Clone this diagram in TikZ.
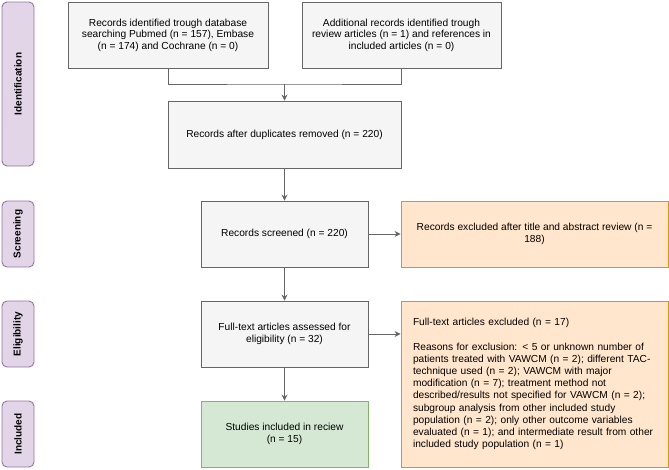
\documentclass[tikz,border=0pt]{standalone}
\usepackage{fontspec}
\setmainfont{Liberation Sans}
\usetikzlibrary{arrows.meta}
\definecolor{stagefill}{HTML}{E1D5E7}
\definecolor{stageline}{HTML}{9673A6}
\definecolor{boxfill}{HTML}{F5F5F5}
\definecolor{boxline}{HTML}{666666}
\definecolor{exfill}{HTML}{FFE6CC}
\definecolor{exline}{HTML}{D79B00}
\definecolor{inclfill}{HTML}{D5E8D4}
\definecolor{inclline}{HTML}{82B366}
\tikzset{
    stage/.style={draw=stageline, fill=stagefill, rounded corners=5, line width=0.9,
        minimum height=32, font=\fontsize{10}{11.5}\selectfont\bfseries, inner sep=0},
    flowbox/.style={draw=boxline, fill=boxfill, line width=0.9, align=center,
        font=\fontsize{10.2}{11.5}\selectfont, inner sep=0},
    exbox/.style={flowbox, draw=exline, fill=exfill},
    inclbox/.style={flowbox, draw=inclline, fill=inclfill},
    link/.style={draw=boxline, line width=0.9},
    arrow/.style={link, -{Stealth[length=6,width=6]}}
}
\begin{document}
\begin{tikzpicture}[x=1pt, y=-1pt]
                \useasboundingbox (0,0) rectangle (669,469);
                \node[stage, minimum width=164, rotate=90] (ident) at (18,84) {Identification};
                \node[stage, minimum width=66, rotate=90] (screen) at (18,234) {Screening};
                \node[stage, minimum width=66, rotate=90] (elig) at (18,334) {Eligibility};
                \node[stage, minimum width=66, rotate=90] (incl) at (18,434) {Included};
                \node[flowbox, minimum width=200, minimum height=66] (db) at (168,35)
                    {Records identified trough database\\searching Pubmed (n = 157), Embase\\(n = 174) and Cochrane (n = 0)};
                \node[flowbox, minimum width=199, minimum height=66] (extra) at (401.5,35)
                    {Additional records identified trough\\review articles (n = 1) and references in\\included articles (n = 0)};
                \node[flowbox, minimum width=233, minimum height=67] (dup) at (284.5,134.5)
                    {Records after duplicates removed (n = 220)};
                \node[flowbox, minimum width=167, minimum height=66] (screened) at (284.5,234)
                    {Records screened (n = 220)};
                \node[exbox, minimum width=267, minimum height=66] (ex1) at (534.5,234)
                    {Records excluded after title and abstract review (n =\\188)};
                \node[flowbox, minimum width=167, minimum height=66] (fulltext) at (284.5,334)
                    {Full-text articles assessed for\\eligibility (n = 32)};
                \node[exbox, minimum width=267, minimum height=166, text width=243, align=left,
                    font=\fontsize{10.2}{12.2}\selectfont] (ex2) at (534.5,384)
                    {Full-text articles excluded (n = 17)\\[12.2pt]
                    Reasons for exclusion: < 5 or unknown number of\\
                    patients treated with VAWCM (n = 2); different TAC-\\
                    technique used (n = 2); VAWCM with major\\
                    modification (n = 7); treatment method not\\
                    described/results not specified for VAWCM (n = 2);\\
                    subgroup analysis from other included study\\
                    population (n = 2); only other outcome variables\\
                    evaluated (n = 1); and intermediate result from other\\
                    included study population (n = 1)};
                \node[inclbox, minimum width=167, minimum height=66] (studies) at (284.5,434)
                    {Studies included in reciew\\(n = 15)};
                \coordinate (merge) at (284.5,84);
                \draw[link] (db.south) |- (merge) -| (extra.south);
                \draw[arrow] (merge) -- (dup.north);
                \draw[arrow] (dup.south) -- (screened.north);
                \draw[arrow] (screened.east) -- (ex1.west);
                \draw[arrow] (screened.south) -- (fulltext.north);
                \draw[arrow] (fulltext.east) -- (fulltext.east -| ex2.west);
                \draw[arrow] (fulltext.south) -- (studies.north);
            \end{tikzpicture}
\end{document}
